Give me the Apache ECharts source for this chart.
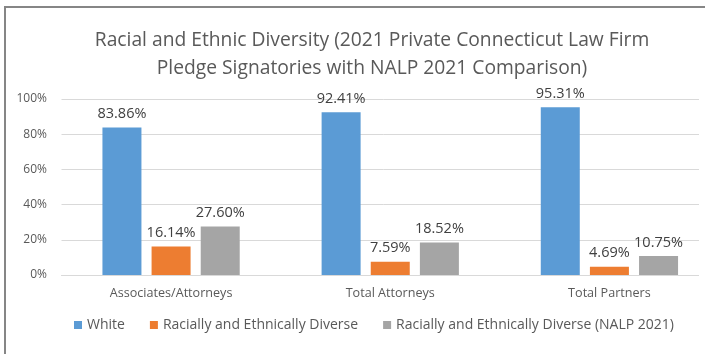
<!DOCTYPE html>
<html>
<head>
<meta charset="utf-8">
<script src="https://cdn.jsdelivr.net/npm/echarts@6/dist/echarts.min.js"></script>
<style>
html,body{margin:0;padding:0;background:#fff;}
#c{width:705px;height:354px;}
</style>
</head>
<body>
<div id="c"></div>
<script>
const categories = ['Associates/Attorneys', 'Total Attorneys', 'Total Partners'];
const seriesNames = ['White', 'Racially and Ethnically Diverse', 'Racially and Ethnically Diverse (NALP 2021)'];
const white = [83.86, 92.41, 95.31];
const diverse = [16.14, 7.59, 4.69];
const nalp = [27.60, 18.52, 10.75];
const yTicks = [0, 20, 40, 60, 80, 100];

const FONT = 'Open Sans';
const colors = ['#5B9BD5', '#ED7D31', '#A5A5A5'];
const values = [white, diverse, nalp];

const chart = echarts.init(document.getElementById('c'), null, {renderer: 'canvas'});
chart.setOption({
  animation: false,
  backgroundColor: '#fff',
  title: {
    text: 'Racial and Ethnic Diversity (2021 Private Connecticut Law Firm\nPledge Signatories with NALP 2021 Comparison)',
    left: 372,
    top: 27,
    textAlign: 'center',
    padding: 0,
    textStyle: {fontFamily: FONT, fontSize: 19.25, fontWeight: 'normal', color: '#595959', lineHeight: 28}
  },
  legend: {
    data: seriesNames,
    left: 74,
    top: 318,
    padding: 0,
    icon: 'rect',
    itemWidth: 8,
    itemHeight: 8,
    itemGap: 25,
    textStyle: {fontFamily: FONT, fontSize: 14, color: '#595959'}
  },
  grid: {left: 61.5, top: 99, bottom: 79, right: -14, outerBoundsMode: 'none', containLabel: false},
  xAxis: {
    type: 'category',
    data: categories,
    axisTick: {show: false},
    axisLine: {lineStyle: {color: '#d9d9d9'}},
    axisLabel: {fontFamily: FONT, fontSize: 12.6, color: '#595959', margin: 12}
  },
  yAxis: {
    type: 'value',
    min: 0, max: 100, interval: 20,
    axisLine: {show: false},
    axisTick: {show: false},
    splitLine: {lineStyle: {color: '#d9d9d9'}},
    axisLabel: {fontFamily: FONT, fontSize: 12, color: '#595959', margin: 14.5, formatter: v => v + '%'}
  },
  series: seriesNames.map((n, i) => ({
    name: n,
    type: 'bar',
    data: values[i],
    barWidth: 39,
    barGap: '26%',
    itemStyle: {color: colors[i]},
    label: {
      show: true, position: 'top', distance: 6,
      fontFamily: FONT, fontSize: 14.5, color: '#404040',
      formatter: p => p.value.toFixed(2) + '%'
    }
  })),
  graphic: [{
    type: 'rect',
    silent: true,
    z: 100,
    shape: {x: 699, y: 90, width: 10, height: 195},
    style: {fill: '#fff'}
  }, {
    type: 'polyline',
    silent: true,
    z: 101,
    shape: {points: [[5, 360], [5, 7], [710, 7]]},
    style: {stroke: '#868686', lineWidth: 2, fill: null}
  }]
});
</script>
</body>
</html>
